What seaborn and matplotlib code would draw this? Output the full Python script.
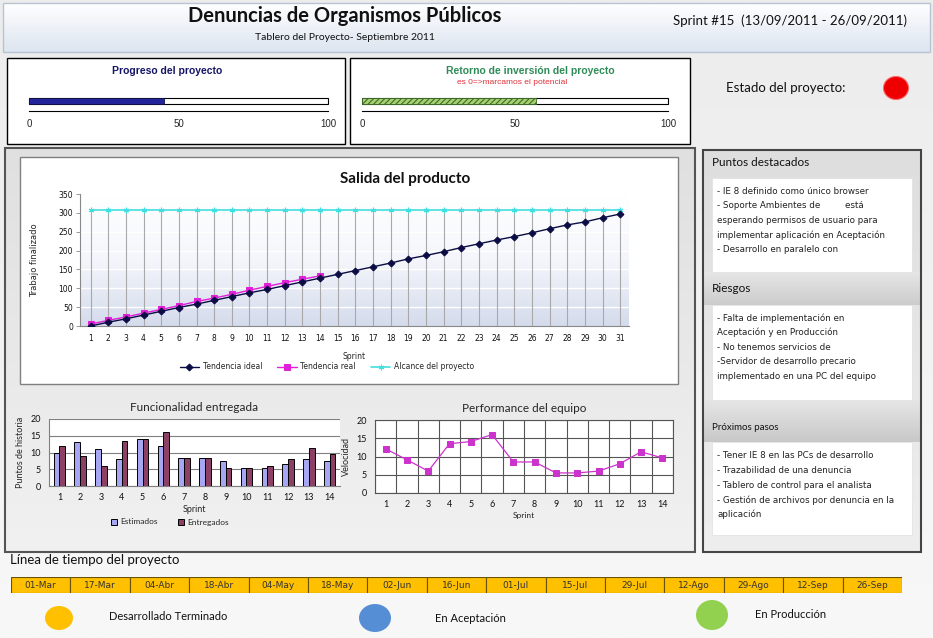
import numpy as np
import pandas as pd
import matplotlib
matplotlib.use("Agg")
import matplotlib.pyplot as plt
import seaborn as sns
from matplotlib.colors import LinearSegmentedColormap
from matplotlib.patches import Rectangle, Ellipse

# ---------------- data ----------------
titulo = "Denuncias de Organismos Públicos"
subtitulo = "Tablero del Proyecto- Septiembre 2011"
sprint_info = "Sprint #15  (13/09/2011 - 26/09/2011)"

progreso = 45
retorno = 57
escala_ticks = [0, 50, 100]

sprints_total = list(range(1, 32))
tendencia_ideal = [0, 10, 19, 29, 39, 49, 58, 68, 78, 88, 97, 107, 117, 127, 137, 147,
                   157, 167, 178, 187, 197, 208, 218, 228, 237, 247, 258, 268, 276, 287, 297]
sprints_real = list(range(1, 15))
tendencia_real = [5, 15, 24, 34, 44, 54, 65, 74, 84, 95, 105, 115, 124, 133]
alcance = [307, 307, 307, 307, 307, 307, 307, 307, 307, 307, 307, 307, 307, 307, 307, 307,
           307, 307, 307, 307, 307, 307, 307, 307, 307, 307, 307, 307, 307, 307, 307]

sprints = [str(i) for i in range(1, 15)]
estimados = [10, 13, 11, 8, 14, 12, 8.3, 8.3, 7.4, 5.3, 5.3, 6.5, 8, 7.4]
entregados = [12, 9, 6, 13.5, 14, 16, 8.3, 8.3, 5.3, 5.3, 6, 8, 11.3, 9.6]
velocidad = [12.1, 9.1, 6, 13.5, 14.1, 16, 8.5, 8.5, 5.5, 5.5, 6, 8, 11.3, 9.6]

fechas = ["01-Mar", "17-Mar", "04-Abr", "18-Abr", "04-May", "18-May", "02-Jun", "16-Jun",
          "01-Jul", "15-Jul", "29-Jul", "12-Ago", "29-Ago", "12-Sep", "26-Sep"]

puntos = ["- IE 8 definido como único browser",
          "- Soporte Ambientes de         está",
          "esperando permisos de usuario para",
          "implementar aplicación en Aceptación",
          "- Desarrollo en paralelo con"]
riesgos = ["- Falta de implementación en",
           "Aceptación y en Producción",
           "- No tenemos servicios de",
           "-Servidor de desarrollo precario",
           "implementado en una PC del equipo"]
pasos = ["- Tener IE 8 en las PCs de desarrollo",
         "- Trazabilidad de una denuncia",
         "- Tablero de control para el analista",
         "- Gestión de archivos por denuncia en la",
         "aplicación"]

# ---------------- setup ----------------
sns.set_style("white")
plt.rcParams["font.family"] = ["Lato", "DejaVu Sans"]
plt.rcParams["hatch.linewidth"] = 0.8
W, H = 933, 638
fig = plt.figure(figsize=(W / 100, H / 100), dpi=100)
fig.patch.set_facecolor("#f0f0f0")

bg = fig.add_axes([0, 0, 1, 1])
bg.axis("off")


def grad(x0, y0, x1, y1, ctop, cbot, z=0):
    cmap = LinearSegmentedColormap.from_list("g", [ctop, cbot])
    bg.imshow(np.linspace(0, 1, 256).reshape(-1, 1), extent=(x0, x1, y1, y0),
              cmap=cmap, aspect="auto", origin="upper", zorder=z)


def box(x0, y0, x1, y1, fc="white", ec="black", lw=1.0, z=1):
    bg.add_patch(Rectangle((x0, y0), x1 - x0, y1 - y0, facecolor=fc, edgecolor=ec, lw=lw, zorder=z))


def axes_px(x0, y0, x1, y1):
    return fig.add_axes([x0 / W, 1 - y1 / H, (x1 - x0) / W, (y1 - y0) / H])


grad(0, 0, W, H, "#ececec", "#f8f8f8", z=0)
# header
grad(3, 3, 930, 52, "#ffffff", "#dde5f0", z=1)
box(3, 3, 930, 52, fc="none", ec="#b8c4d4", lw=1, z=2)
bg.text(345, 16, titulo, ha="center", va="center", fontsize=14.5, fontweight="bold", color="#111111", zorder=3)
bg.text(345, 37, subtitulo, ha="center", va="center", fontsize=7.5, color="#111111", zorder=3)
bg.text(790, 21, sprint_info, ha="center", va="center", fontsize=9.5, color="#111111", zorder=3)

# progress boxes
box(7, 58, 345, 144, z=2)
box(350, 58, 690, 144, z=2)
bg.text(167, 71, "Progreso del proyecto", ha="center", va="center", fontsize=7.5,
        fontweight="bold", color="#141466", family=["Liberation Sans", "DejaVu Sans"], zorder=3)
bg.text(530, 71, "Retorno de inversión del proyecto", ha="center", va="center", fontsize=7.5,
        fontweight="bold", color="#2e8b57", family=["Liberation Sans", "DejaVu Sans"], zorder=3)
bg.text(512, 83, "es 0=>marcamos el potencial", ha="center", va="center", fontsize=6,
        color="#e0303a", family=["Liberation Sans", "DejaVu Sans"], zorder=3)

bg.text(786, 88, "Estado del proyecto:", ha="center", va="center", fontsize=9.5, color="#111111", zorder=3)
bg.add_patch(Ellipse((896, 88), 25, 23, facecolor="#ee0000", edgecolor="#ff6666", lw=0.8, zorder=3))

# main section
grad(5, 148, 695, 552, "#e0e0e0", "#f1f1f1", z=1)
box(5, 148, 695, 552, fc="none", ec="#555555", lw=1.5, z=2)
box(20, 157, 678, 384, fc="white", ec="#808080", lw=1, z=2)
bg.text(405, 179, "Salida del producto", ha="center", va="center", fontsize=11,
        fontweight="bold", color="#111111", zorder=3)

# right panel
grad(703, 150, 921, 552, "#dedede", "#eeeeee", z=1)
grad(703, 272, 921, 305, "#e6e6e6", "#cccccc", z=1)
grad(703, 400, 921, 442, "#e6e6e6", "#c8c8c8", z=1)
box(703, 150, 921, 552, fc="none", ec="#444444", lw=1.5, z=2)
bg.text(712, 163, "Puntos destacados", ha="left", va="center", fontsize=8.5, color="#111111", zorder=3)
bg.text(712, 289, "Riesgos", ha="left", va="center", fontsize=8.5, color="#111111", zorder=3)
bg.text(712, 427, "Próximos pasos", ha="left", va="center", fontsize=7, color="#111111", zorder=3)
for (y0, y1, lines, ys) in [(178, 272, puntos, 191), (305, 400, riesgos, 318), (442, 535, pasos, 456)]:
    box(712, y0, 912, y1, fc="white", ec="#e0e0e0", lw=0.5, z=2)
    for i, t in enumerate(lines):
        bg.text(717, ys + i * 14.6, t, ha="left", va="center", fontsize=6.3,
                color="#222222", family=["DejaVu Sans"], zorder=3)

# timeline texts + legend circles
bg.text(10, 560, "Línea de tiempo del proyecto", ha="left", va="center", fontsize=9.5, color="#111111", zorder=3)
for (cx, cy, w, h, col, tx, ty, lab) in [(59, 618, 28, 24, "#ffc000", 109, 617, "Desarrollado Terminado"),
                                         (375, 618, 32, 28, "#558ed5", 435, 619, "En Aceptación"),
                                         (712, 615, 32, 30, "#92d050", 755, 614, "En Producción")]:
    bg.add_patch(Ellipse((cx, cy), w, h, facecolor=col, edgecolor="none", zorder=3))
    bg.text(tx, ty, lab, ha="left", va="center", fontsize=8, color="#111111", zorder=3)

bg.set_xlim(0, W)
bg.set_ylim(H, 0)

# ---------------- progress bars ----------------
def progress(x0, x1, value, fc, hatch=None, hatch_ec=None):
    ax = axes_px(x0, 95, x1, 111)
    ax.set_facecolor("none")
    ax.barh([10], [100], height=6, left=0, color="white", edgecolor="black", lw=0.8, clip_on=False)
    if hatch:
        ax.barh([10], [value], height=6, left=0, color=fc, edgecolor=hatch_ec, hatch=hatch, lw=0.6, clip_on=False)
    else:
        ax.barh([10], [value], height=6, left=0, color=fc, edgecolor="#111144", lw=0.6, clip_on=False)
    ax.set_xlim(0, 100)
    ax.set_ylim(0, 16)
    for s in ["top", "right", "left"]:
        ax.spines[s].set_visible(False)
    ax.spines["bottom"].set_color("black")
    ax.spines["bottom"].set_linewidth(0.8)
    ax.set_xticks(escala_ticks)
    ax.set_xticklabels([str(t) for t in escala_ticks], fontsize=7, family=["Liberation Sans", "DejaVu Sans"])
    ax.tick_params(axis="x", direction="in", length=4, width=0.8, pad=6)
    ax.set_yticks([])
    return ax


progress(29, 328, progreso, "#25259a")
progress(362, 668, retorno, "#a8d070", hatch="//////", hatch_ec="#3a6b2a")

# ---------------- Salida del producto ----------------
ax1 = axes_px(80, 194, 629, 326)
cmap_bg = LinearSegmentedColormap.from_list("b", ["#ffffff", "#f4f6fb", "#d4dbec"])
ax1.imshow(np.linspace(0, 1, 256).reshape(-1, 1), extent=(0.4, 31.5, 0, 350),
           cmap=cmap_bg, aspect="auto", origin="upper", zorder=0)
for yv in [50, 100, 150, 200, 250, 300, 350]:
    ax1.axhline(yv, color="white", lw=1, zorder=1)
ax1.vlines(sprints_total, 0, alcance, color="#a9a9a9", lw=0.8, zorder=1)
sns.lineplot(x=sprints_total, y=alcance, ax=ax1, color="#40dede", lw=1.2, marker=(6, 2, 0),
             markersize=4, markeredgecolor="#40dede", label="Alcance del proyecto", zorder=3)
sns.lineplot(x=sprints_real, y=tendencia_real, ax=ax1, color="#e020d8", lw=1, marker="s",
             markersize=4, markeredgecolor="#e020d8", label="Tendencia real", zorder=4)
sns.lineplot(x=sprints_total, y=tendencia_ideal, ax=ax1, color="#0c0c44", lw=1, marker="D",
             markersize=3.5, markeredgecolor="#0c0c44", label="Tendencia ideal", zorder=5)
ax1.set_xlim(0.4, 31.5)
ax1.set_ylim(0, 350)
ax1.set_yticks(range(0, 351, 50))
ax1.set_xticks(sprints_total)
ax1.tick_params(axis="both", labelsize=5.5, colors="#111111")
ax1.tick_params(axis="x", length=0, pad=6)
ax1.tick_params(axis="y", length=3, width=0.6, color="#888888", pad=2, left=True)
for s in ["top", "right"]:
    ax1.spines[s].set_visible(False)
ax1.spines["left"].set_color("#888888")
ax1.spines["bottom"].set_color("#888888")
ax1.set_xlabel("Sprint", fontsize=5.5, labelpad=6, family=["DejaVu Sans"])
ax1.set_ylabel("Trabajo finalizado", fontsize=6, labelpad=14, family=["DejaVu Sans"])
for t in ax1.get_xticklabels() + ax1.get_yticklabels():
    t.set_family("DejaVu Sans")
h, l = ax1.get_legend_handles_labels()
order = [l.index("Tendencia ideal"), l.index("Tendencia real"), l.index("Alcance del proyecto")]
ax1.legend([h[i] for i in order], [l[i] for i in order], loc="center",
           bbox_to_anchor=(327 / W, 1 - 367 / H), bbox_transform=fig.transFigure, ncol=3,
           frameon=False, prop={"family": "DejaVu Sans", "size": 5.5}, handlelength=2.5,
           columnspacing=2, handletextpad=0.5)

# ---------------- Funcionalidad entregada ----------------
df_bar = pd.DataFrame({"Sprint": sprints * 2,
                       "Puntos": estimados + entregados,
                       "Serie": ["Estimados"] * len(sprints) + ["Entregados"] * len(sprints)})
ax2 = axes_px(49, 419, 340, 486)
ax2.set_facecolor("white")
sns.barplot(data=df_bar, x="Sprint", y="Puntos", hue="Serie", ax=ax2, width=0.55,
            palette={"Estimados": "#9999ff", "Entregados": "#993366"},
            edgecolor="black", linewidth=0.7, zorder=3)
ax2.set_ylim(0, 20)
ax2.set_xlim(-0.5, 13.5)
ax2.set_yticks([0, 5, 10, 15, 20])
ax2.grid(axis="y", color="#808080", lw=0.8, zorder=0)
ax2.set_axisbelow(True)
for s in ["top", "right"]:
    ax2.spines[s].set_visible(False)
ax2.spines["left"].set_color("#808080")
ax2.spines["bottom"].set_color("#808080")
ax2.tick_params(axis="both", labelsize=6.5, colors="#111111")
ax2.tick_params(axis="x", length=0, pad=5)
ax2.tick_params(axis="y", length=0, pad=6)
ax2.set_xlabel("Sprint", fontsize=6.5, labelpad=2)
ax2.set_ylabel("Puntos de historia", fontsize=6.5, labelpad=4)
ax2.set_title("Funcionalidad entregada", fontsize=8.5, pad=6)
ax2.legend(loc="center", bbox_to_anchor=(170 / W, 1 - 522 / H), bbox_transform=fig.transFigure,
           ncol=2, frameon=False, fontsize=6, handlelength=0.7, handleheight=0.7,
           columnspacing=2.5, handletextpad=0.4, title=None)

# ---------------- Performance del equipo ----------------
ax3 = axes_px(375, 420, 673, 493)
ax3.set_facecolor("white")
sns.lineplot(x=list(range(len(sprints))), y=velocidad, ax=ax3, color="#cc33cc", lw=0.9,
             marker="s", markersize=4.5, markeredgecolor="#cc33cc", zorder=3)
ax3.set_xlim(-0.5, 13.5)
ax3.set_ylim(0, 20)
ax3.set_xticks(range(len(sprints)))
ax3.set_xticklabels(sprints)
ax3.set_xticks(np.arange(-0.5, 14, 1), minor=True)
ax3.set_yticks([0, 5, 10, 15, 20])
ax3.grid(which="minor", axis="x", color="#555555", lw=0.8)
ax3.grid(which="major", axis="y", color="#555555", lw=0.8)
ax3.grid(which="major", axis="x", visible=False)
for s in ax3.spines.values():
    s.set_color("#555555")
ax3.tick_params(axis="both", which="both", length=0, labelsize=6.5, colors="#111111")
ax3.tick_params(axis="x", pad=5)
ax3.tick_params(axis="y", pad=6)
ax3.set_xlabel("Sprint", fontsize=6, labelpad=2)
ax3.set_ylabel("Velocidad", fontsize=6.5, labelpad=4)
ax3.set_title("Performance del equipo", fontsize=8.5, pad=6)

# ---------------- Timeline ----------------
ax4 = axes_px(11, 577, 902, 593)
ax4.bar(range(len(fechas)), [1] * len(fechas), width=1, color="#ffc000", edgecolor="#6b5200", lw=0.8)
ax4.set_xlim(-0.5, len(fechas) - 0.5)
ax4.set_ylim(0, 1)
ax4.axis("off")
for i, f in enumerate(fechas):
    ax4.text(i, 0.5, f, ha="center", va="center", fontsize=6.5, color="#333333",
             family=["Liberation Sans Narrow", "DejaVu Sans"])

fig.savefig("out.png", dpi=100, facecolor=fig.get_facecolor())
